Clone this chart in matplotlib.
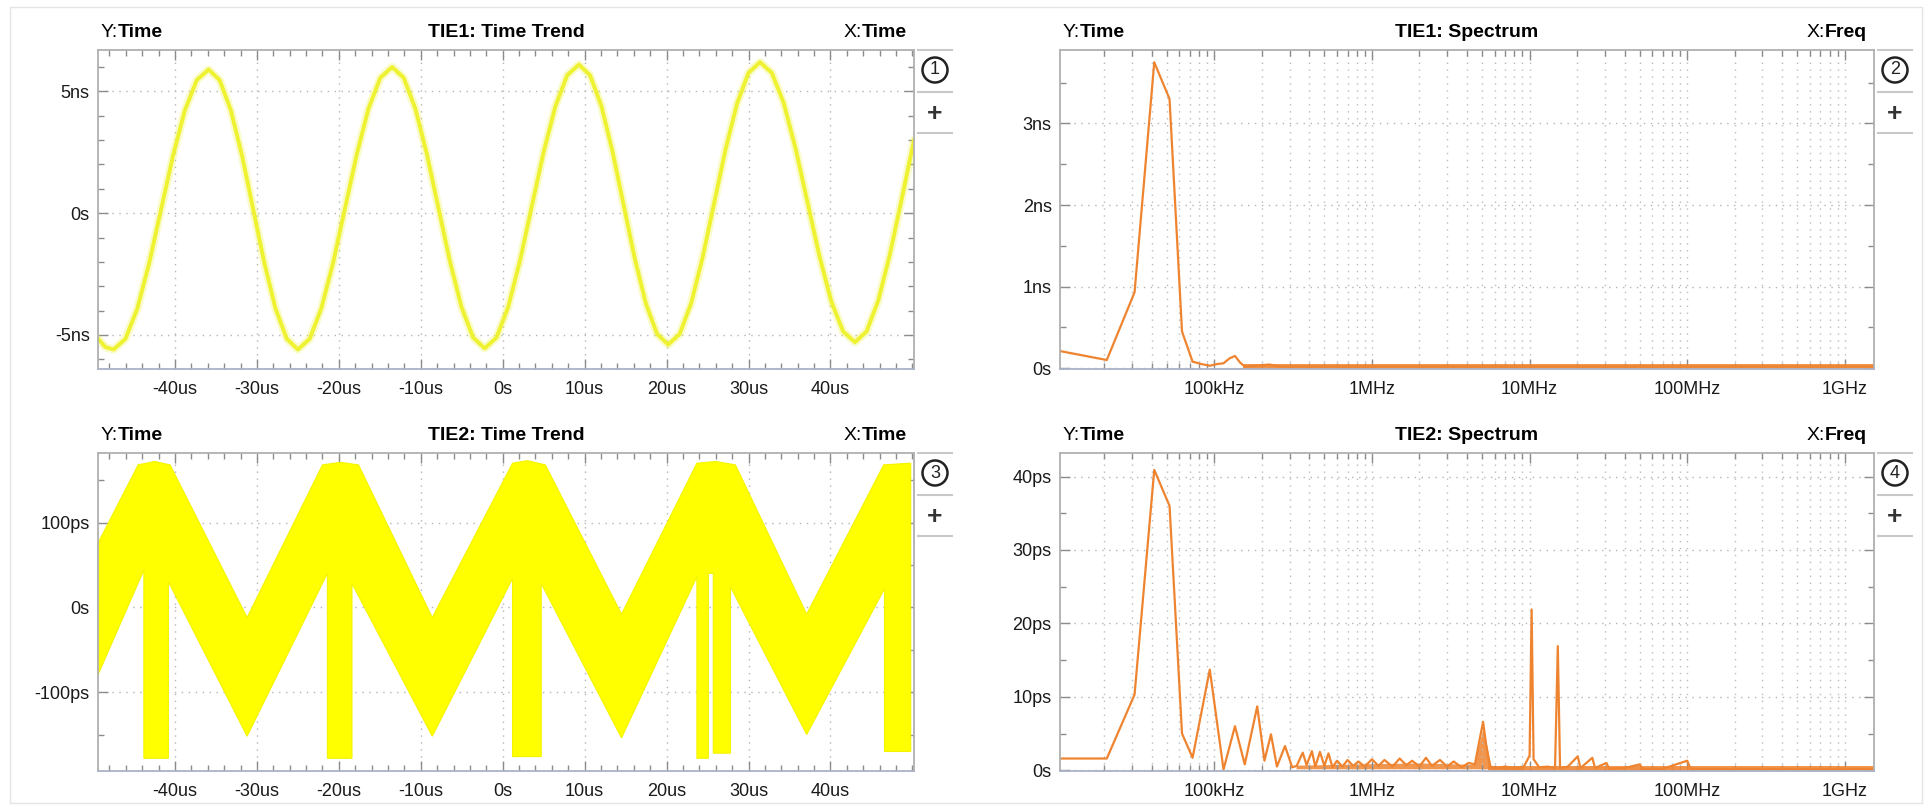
import numpy as np
import matplotlib.pyplot as plt
from matplotlib.patches import Circle, Rectangle
from matplotlib.lines import Line2D
from matplotlib.ticker import MultipleLocator, LogLocator, NullFormatter

plt.rcParams['font.family'] = ['Liberation Sans', 'DejaVu Sans']

W, H = 1932, 806

# TIE1 time trend: time (us) vs TIE (ns)
tie1_t = [-49.4, -48.5, -47.5, -46.05, -44.6, -43.15, -41.7, -40.25, -38.8, -37.35, -35.9,
          -34.54, -33.18, -31.81, -30.45, -29.09, -27.73, -26.36, -25.0,
          -23.56, -22.13, -20.69, -19.25, -17.81, -16.38, -14.94, -13.5,
          -12.09, -10.68, -9.26, -7.85, -6.44, -5.03, -3.61, -2.2,
          -0.76, 0.68, 2.11, 3.55, 4.99, 6.43, 7.86, 9.3,
          10.66, 12.03, 13.39, 14.75, 16.11, 17.48, 18.84, 20.2,
          21.6, 23.0, 24.4, 25.8, 27.2, 28.6, 30.0, 31.4,
          32.85, 34.3, 35.75, 37.2, 38.65, 40.1, 41.55, 43.0,
          44.41, 45.83, 47.24, 48.65, 50.2]
tie1_v = [-5.15, -5.5, -5.6, -5.16, -3.92, -2.05, 0.15, 2.35, 4.22, 5.46, 5.9,
          5.46, 4.22, 2.35, 0.15, -2.05, -3.92, -5.16, -5.6,
          -5.16, -3.90, -2.02, 0.2, 2.42, 4.30, 5.56, 6.0,
          5.56, 4.31, 2.43, 0.22, -1.98, -3.86, -5.11, -5.55,
          -5.11, -3.84, -1.95, 0.28, 2.50, 4.39, 5.66, 6.1,
          5.66, 4.42, 2.55, 0.35, -1.85, -3.72, -4.96, -5.4,
          -4.96, -3.70, -1.82, 0.4, 2.62, 4.50, 5.76, 6.2,
          5.76, 4.52, 2.65, 0.45, -1.75, -3.62, -4.86, -5.3,
          -4.86, -3.60, -1.72, 0.5, 3.0]

# TIE2 time trend: upper and lower envelope of the dense band (us, ps)
tie2_up_t = [-49.6, -44.5, -42.5, -40.6, -31.2, -22.0, -19.8, -17.6, -8.6, 1.2, 3.0, 5.2,
             14.5, 23.7, 26.0, 28.4, 37.1, 46.5, 49.8]
tie2_up_v = [72, 168, 172, 168, -12, 168, 171, 168, -12, 170, 173, 168,
             -8, 170, 172, 168, -8, 168, 170]
tie2_lo_t = [-49.6, -43.8, -43.8, -40.8, -40.8, -31.2, -21.4, -21.4, -18.4, -18.4, -8.6,
             1.2, 1.2, 4.7, 4.7, 14.5, 23.7, 23.7, 25.1, 25.1, 25.7, 25.7, 27.8, 27.8,
             37.1, 46.6, 46.6, 49.8]
tie2_lo_v = [-84, 44, -178, -178, 30, -152, 40, -178, -178, 28, -152,
             34, -176, -176, 28, -154, 36, -178, -178, 40, 40, -172, -172, 24,
             -150, 22, -170, -170]

# TIE1 spectrum (Hz, ns)
spec1_f = [10.5e3, 20.8e3, 31.2e3, 41.6e3, 52.0e3, 62.4e3, 72.8e3, 83.2e3, 93.6e3, 104e3,
           114.4e3, 124.8e3, 135.2e3, 145.6e3, 156e3, 182e3, 224e3, 260e3, 1.53e9]
spec1_v = [0.21, 0.10, 0.93, 3.75, 3.30, 0.45, 0.08, 0.05, 0.03, 0.05,
           0.06, 0.12, 0.15, 0.07, 0.02, 0.03, 0.045, 0.02, 0.02]
spec1_floor_f = [1.56e5, 1.53e9]
spec1_floor_v = [0.022, 0.022]

# TIE2 spectrum (Hz, ps)
spec2_f = [10.5e3, 20.8e3, 31.2e3, 41.6e3, 52.0e3, 62.4e3, 72.8e3, 93.6e3, 114.4e3, 135.2e3,
           156e3, 187.2e3, 208e3, 228.8e3, 249.6e3, 280.8e3, 312e3, 333e3, 364e3, 385e3,
           416e3, 437e3, 468e3, 499e3, 530e3, 562e3, 600e3, 650e3, 700e3, 760e3,
           820e3, 900e3, 1.0e6, 1.1e6, 1.2e6, 1.35e6, 1.5e6, 1.65e6, 1.8e6, 2.0e6,
           2.2e6, 2.4e6, 2.7e6, 3.0e6, 3.3e6, 3.7e6, 4.1e6, 4.5e6, 4.8e6, 5.07e6,
           5.3e6, 5.6e6, 6.2e6, 7.0e6, 8.0e6, 9.2e6, 10.0e6, 10.3e6, 10.6e6, 11.5e6,
           13e6, 14.5e6, 15.1e6, 15.6e6, 17.5e6, 20.2e6, 21e6, 25e6, 26e6, 30.7e6,
           32e6, 40e6, 50e6, 52e6, 70e6, 100e6, 105e6, 200e6, 500e6, 1.53e9]
spec2_v = [1.6, 1.6, 10.3, 40.9, 36.0, 5.0, 1.7, 13.7, 0.1, 6.0,
           0.8, 8.7, 1.3, 4.9, 0.5, 3.3, 0.4, 0.6, 2.4, 0.7,
           2.6, 0.5, 2.5, 0.6, 2.3, 0.4, 1.3, 0.5, 1.4, 0.6,
           1.2, 0.5, 1.5, 0.6, 1.4, 0.5, 1.6, 0.7, 1.3, 0.5,
           1.7, 0.6, 1.4, 0.5, 1.2, 0.4, 1.0, 0.8, 4.0, 6.6,
           3.5, 0.5, 0.3, 0.5, 0.3, 0.5, 2.0, 21.9, 1.5, 0.4,
           0.5, 0.3, 16.9, 0.3, 0.5, 1.9, 0.3, 1.7, 0.3, 1.0,
           0.2, 0.3, 0.8, 0.2, 0.2, 1.3, 0.15, 0.15, 0.15, 0.15]
spec2_floor_f = [5.6e6, 1.53e9]
spec2_floor_v = [0.25, 0.25]
# dense noise band under the TIE2 spectrum (Hz, ps low / high)
spec2_band_f = [3.3e5, 6.0e5, 1.0e6, 2.0e6, 3.0e6, 4.4e6, 4.7e6, 5.07e6, 5.4e6, 5.7e6, 9.0e6]
spec2_band_lo = [0.2, 0.2, 0.2, 0.2, 0.2, 0.2, 0.2, 0.2, 0.2, 0.2, 0.1]
spec2_band_hi = [0.7, 0.8, 0.9, 1.0, 0.9, 0.8, 3.0, 5.8, 3.0, 0.6, 0.4]

time_ticks = [-40, -30, -20, -10, 0, 10, 20, 30, 40]
time_labels = ['-40us', '-30us', '-20us', '-10us', '0s', '10us', '20us', '30us', '40us']
tie1_yticks = [-5, 0, 5]
tie1_ylabels = ['-5ns', '0s', '5ns']
tie2_yticks = [-100, 0, 100]
tie2_ylabels = ['-100ps', '0s', '100ps']
freq_ticks = [1e5, 1e6, 1e7, 1e8, 1e9]
freq_labels = ['100kHz', '1MHz', '10MHz', '100MHz', '1GHz']
spec1_yticks = [0, 1, 2, 3]
spec1_ylabels = ['0s', '1ns', '2ns', '3ns']
spec2_yticks = [0, 10, 20, 30, 40]
spec2_ylabels = ['0s', '10ps', '20ps', '30ps', '40ps']

YELLOW = '#eef230'
ORANGE = '#ef8430'
GRID = (0, (1, 4))

fig = plt.figure(figsize=(W / 100, H / 100), dpi=100)
fig.add_artist(Rectangle((10 / W, 1 - 803 / H), 1912 / W, 796 / H, fill=False,
                         ec='#e4e4e4', lw=1))


def make_axes(x0, y0, x1, y1):
    ax = fig.add_axes([x0 / W, 1 - y1 / H, (x1 - x0) / W, (y1 - y0) / H])
    for s in ax.spines.values():
        s.set_color('#b0b0b0')
        s.set_linewidth(1.3)
    ax.spines['bottom'].set_color('#aab2c8')
    ax.tick_params(which='both', direction='in', top=True, right=True,
                   colors='#8c8c8c', labelcolor='#1a1a1a', labelsize=13)
    ax.tick_params(which='major', length=7, width=1)
    ax.tick_params(which='minor', length=4, width=1)
    ax.tick_params(axis='x', pad=9)
    ax.tick_params(axis='y', pad=6)
    return ax


def header(ax, title, xname):
    t = ax.annotate('Y:', xy=(0, 1), xycoords='axes fraction', xytext=(2, 12.5),
                    textcoords='offset points', ha='left', va='center', fontsize=14)
    ax.annotate('Time', xy=(1, 0.5), xycoords=t, ha='left', va='center',
                fontsize=14, fontweight='bold')
    ax.annotate(title, xy=(0.5, 1), xycoords='axes fraction', xytext=(0, 12.5),
                textcoords='offset points', ha='center', va='center',
                fontsize=14, fontweight='bold')
    r = ax.annotate(xname, xy=(1, 1), xycoords='axes fraction', xytext=(-5, 12.5),
                    textcoords='offset points', ha='right', va='center',
                    fontsize=14, fontweight='bold')
    ax.annotate('X:', xy=(0, 0.5), xycoords=r, ha='right', va='center', fontsize=14)


def icons(x_right, y_top, num):
    cx = x_right + 21
    fig.add_artist(Circle((cx / 100, (H - y_top - 20) / 100), 0.125,
                          transform=fig.dpi_scale_trans, fill=False, ec='#222222', lw=1.8))
    fig.text(cx / W, 1 - (y_top + 20) / H, str(num), ha='center', va='center',
             fontsize=13, color='#222222')
    fig.text(cx / W, 1 - (y_top + 64) / H, '+', ha='center', va='center',
             fontsize=19, fontweight='bold', color='#333333')
    for dy in (0, 42, 83):
        fig.add_artist(Line2D([(x_right + 4) / W, (x_right + 38) / W],
                              [1 - (y_top + dy) / H] * 2, color='#c8c8c8', lw=1.5))


def time_axis(ax):
    ax.set_xlim(-49.4, 50.2)
    ax.set_xticks(time_ticks, time_labels)
    ax.xaxis.set_minor_locator(MultipleLocator(2))
    ax.grid(True, which='major', ls=GRID, color='#b4b4b4', lw=1)


def freq_axis(ax):
    ax.set_xscale('log')
    ax.set_xlim(10.5e3, 1.53e9)
    ax.set_xticks(freq_ticks, freq_labels)
    ax.xaxis.set_minor_locator(LogLocator(base=10, subs=np.arange(2, 10)))
    ax.xaxis.set_minor_formatter(NullFormatter())
    ax.grid(True, axis='x', which='both', ls=GRID, color='#bcbcbc', lw=1)
    ax.grid(True, axis='y', which='major', ls=GRID, color='#b4b4b4', lw=1)


# panel 1: TIE1 time trend
ax1 = make_axes(98, 50, 914, 369)
time_axis(ax1)
ax1.set_ylim(-6.4, 6.7)
ax1.set_yticks(tie1_yticks, tie1_ylabels)
ax1.yaxis.set_minor_locator(MultipleLocator(1))
ax1.plot(tie1_t, tie1_v, color=YELLOW, lw=6, alpha=0.25, solid_capstyle='round')
ax1.plot(tie1_t, tie1_v, color=YELLOW, lw=2.8, solid_joinstyle='round')
header(ax1, 'TIE1: Time Trend', 'Time')
icons(914, 50, 1)

# panel 2: TIE1 spectrum
ax2 = make_axes(1060, 50, 1874, 369)
freq_axis(ax2)
ax2.set_ylim(-0.01, 3.9)
ax2.set_yticks(spec1_yticks, spec1_ylabels)
ax2.yaxis.set_minor_locator(MultipleLocator(0.5))
ax2.plot(spec1_floor_f, spec1_floor_v, color=ORANGE, lw=3.5, alpha=0.9)
ax2.plot(spec1_f, spec1_v, color=ORANGE, lw=1.6)
header(ax2, 'TIE1: Spectrum', 'Freq')
icons(1874, 50, 2)

# panel 3: TIE2 time trend
ax3 = make_axes(98, 453, 914, 771)
time_axis(ax3)
ax3.set_ylim(-193, 182)
ax3.set_yticks(tie2_yticks, tie2_ylabels)
ax3.yaxis.set_minor_locator(MultipleLocator(50))
ax3.fill(np.r_[tie2_up_t, tie2_lo_t[::-1]], np.r_[tie2_up_v, tie2_lo_v[::-1]],
         color='#ffff00', lw=0.8, ec='#f4f400', zorder=2)
header(ax3, 'TIE2: Time Trend', 'Time')
icons(914, 453, 3)

# panel 4: TIE2 spectrum
ax4 = make_axes(1060, 453, 1874, 771)
freq_axis(ax4)
ax4.set_ylim(-0.1, 43.2)
ax4.set_yticks(spec2_yticks, spec2_ylabels)
ax4.yaxis.set_minor_locator(MultipleLocator(5))
ax4.fill_between(spec2_band_f, spec2_band_lo, spec2_band_hi, color=ORANGE, lw=0, alpha=0.85)
ax4.plot(spec2_floor_f, spec2_floor_v, color=ORANGE, lw=3.5, alpha=0.9)
ax4.plot(spec2_f, spec2_v, color=ORANGE, lw=1.6)
header(ax4, 'TIE2: Spectrum', 'Freq')
icons(1874, 453, 4)

fig.savefig('out.png', dpi=100)
